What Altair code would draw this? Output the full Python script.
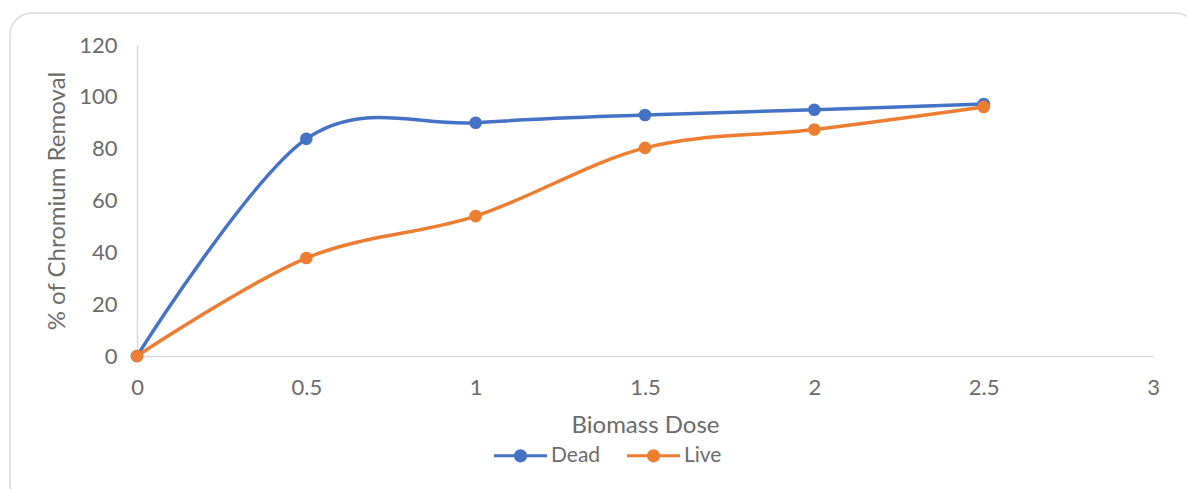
import altair as alt
import pandas as pd

# Biomass dose (x) and % chromium removal for each biomass state
dose = [0, 0.5, 1, 1.5, 2, 2.5]
dead = [0, 83.8, 90.0, 93.0, 95.0, 97.2]
live = [0, 37.8, 54.0, 80.3, 87.4, 96.1]

series = ["Dead", "Live"]
colors = ["#4472C4", "#ED7D31"]

df = pd.DataFrame(
    {"dose": dose * 2,
     "removal": dead + live,
     "state": ["Dead"] * len(dose) + ["Live"] * len(dose)}
)

FONT = "Lato"
TEXT = "#6b6b6b"

# legend glyph: short line with a dot in the middle
legend_symbol = (
    "M -1 -0.06 H 1 V 0.06 H -1 Z "
    "M 0.25 0 A 0.25 0.25 0 1 1 -0.25 0 A 0.25 0.25 0 1 1 0.25 0 Z"
)

color = alt.Color(
    "state:N",
    scale=alt.Scale(domain=series, range=colors),
    legend=alt.Legend(
        title=None,
        orient="none",
        direction="horizontal",
        legendX=357,
        legendY=384,
        symbolType=legend_symbol,
        symbolSize=2809,
        symbolStrokeWidth=0,
        symbolFillColor="#000",
        labelFont=FONT,
        labelFontSize=21,
        labelColor=TEXT,
        labelOffset=4,
        columnPadding=26,
    ),
)

x = alt.X(
    "dose:Q",
    title="Biomass Dose",
    scale=alt.Scale(domain=[0, 3], nice=False),
    axis=alt.Axis(values=[0, 0.5, 1, 1.5, 2, 2.5, 3], format="~g",
                  labelFlush=False, labelPadding=21, titlePadding=15),
)
y = alt.Y(
    "removal:Q",
    title="% of Chromium Removal",
    scale=alt.Scale(domain=[0, 120], nice=False),
    axis=alt.Axis(values=[0, 20, 40, 60, 80, 100, 120], labelFlush=False,
                  labelPadding=20, titlePadding=9),
)

frame = alt.Chart(alt.Data(values=[{}])).mark_rect(
    fill="white", fillOpacity=0, stroke="#d9d9d9", strokeWidth=1.5, cornerRadius=22
).encode(
    x=alt.value(-127), x2=alt.value(1060), y=alt.value(-32), y2=alt.value(460)
)

base = alt.Chart(df).encode(x=x, y=y, color=color)
lines = base.mark_line(interpolate="cardinal", strokeWidth=3.5)
points = base.mark_point(filled=True, opacity=1, size=160, shape="circle")

chart = alt.layer(frame, lines, points).properties(
    width=1016,
    height=311,
    autosize=alt.AutoSizeParams(type="none"),
    padding={"left": 137, "top": 45, "right": 34, "bottom": 133},
    background="white",
).configure_view(stroke=None).configure_axis(
    grid=False,
    ticks=False,
    domainColor="#d9d9d9",
    domainWidth=1.5,
    labelFont=FONT,
    labelFontSize=22,
    labelColor=TEXT,
    titleFont=FONT,
    titleFontSize=24,
    titleColor=TEXT,
    titleFontWeight="normal",
)

chart.save("out.html", embed_options={"renderer": "svg", "actions": False})
